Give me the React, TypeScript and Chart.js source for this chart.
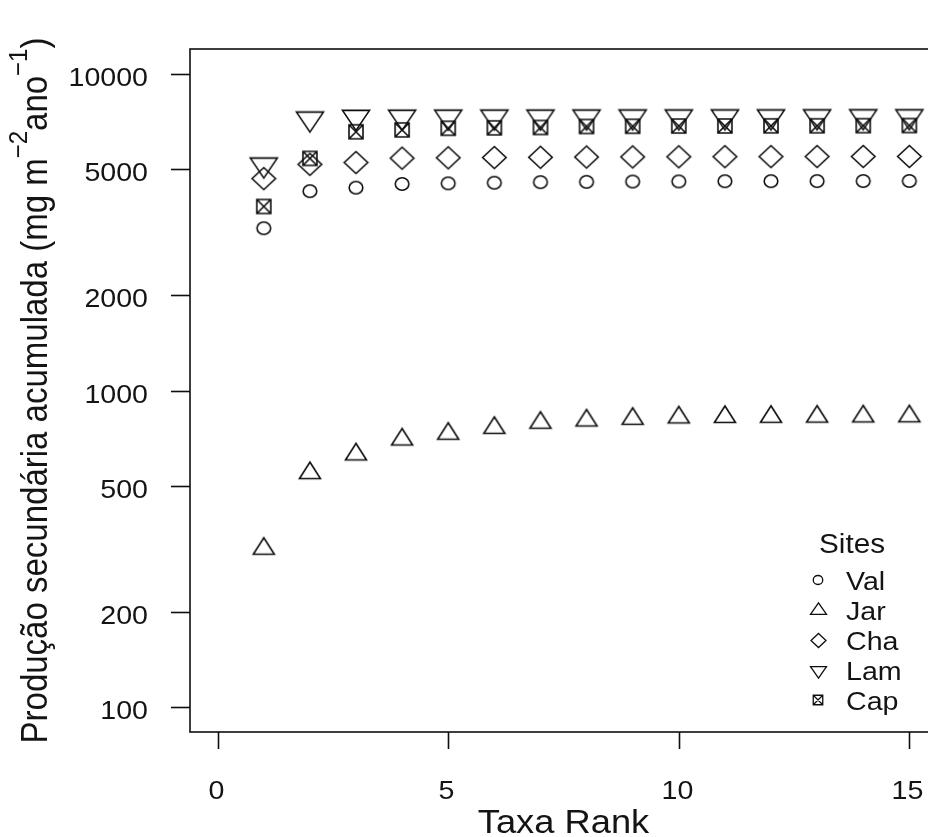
import React, { useEffect, useRef } from "react";
import { Chart, registerables } from "chart.js";

Chart.register(...registerables);

// ---------- data ----------
const ranks = [1, 2, 3, 4, 5, 6, 7, 8, 9, 10, 11, 12, 13, 14, 15];
const valValues = [3260, 4270, 4380, 4500, 4520, 4540, 4560, 4570, 4580, 4585, 4590, 4592, 4594, 4596, 4598];
const jarValues = [316, 548, 628, 700, 730, 762, 791, 804, 814, 822, 825, 826, 827, 828, 829];
const chaValues = [4680, 5190, 5260, 5430, 5445, 5455, 5465, 5475, 5480, 5485, 5490, 5492, 5494, 5496, 5498];
const lamValues = [5180, 7240, 7330, 7335, 7340, 7342, 7344, 7346, 7348, 7350, 7352, 7354, 7356, 7358, 7360];
const capValues = [3820, 5420, 6580, 6670, 6750, 6770, 6790, 6840, 6850, 6860, 6865, 6870, 6875, 6880, 6885];

const siteNames = ["Val", "Jar", "Cha", "Lam", "Cap"];
const legendTitle = "Sites";
const xTicks = [0, 5, 10, 15];
const yTicks = [100, 200, 500, 1000, 2000, 5000, 10000];
const xTitle = "Taxa Rank";
const yTitleParts = ["Produção secundária acumulada (mg m", "\u22122", "ano", "\u22121", ")"];

// ---------- styling ----------
const INK = "#0e0e0e";
const TEXT = "#141414";
const FONT = '"Liberation Sans", Arial, sans-serif';
const SX = 1.1; // horizontal stretch of the reference image

type Shape = "circle" | "tri" | "diamond" | "tridown" | "boxx";

function makeMarker(shape: Shape, w: number, h: number, lw: number): HTMLCanvasElement {
  const size = Math.ceil(Math.max(w, h) * 1.4 + 6);
  const c = document.createElement("canvas");
  c.width = size;
  c.height = size;
  const g = c.getContext("2d")!;
  g.strokeStyle = INK;
  g.lineWidth = lw;
  g.lineJoin = "miter";
  const cx = size / 2;
  const cy = size / 2;
  g.beginPath();
  switch (shape) {
    case "circle":
      g.ellipse(cx, cy, w / 2, h / 2, 0, 0, Math.PI * 2);
      break;
    case "tri":
      g.moveTo(cx, cy - (2 * h) / 3);
      g.lineTo(cx + w / 2, cy + h / 3);
      g.lineTo(cx - w / 2, cy + h / 3);
      g.closePath();
      break;
    case "tridown":
      g.moveTo(cx, cy + (2 * h) / 3);
      g.lineTo(cx + w / 2, cy - h / 3);
      g.lineTo(cx - w / 2, cy - h / 3);
      g.closePath();
      break;
    case "diamond":
      g.moveTo(cx, cy - h / 2);
      g.lineTo(cx + w / 2, cy);
      g.lineTo(cx, cy + h / 2);
      g.lineTo(cx - w / 2, cy);
      g.closePath();
      break;
    case "boxx":
      g.rect(cx - w / 2, cy - h / 2, w, h);
      g.moveTo(cx - w / 2, cy - h / 2);
      g.lineTo(cx + w / 2, cy + h / 2);
      g.moveTo(cx + w / 2, cy - h / 2);
      g.lineTo(cx - w / 2, cy + h / 2);
      break;
  }
  g.stroke();
  return c;
}

function stretchedText(
  ctx: CanvasRenderingContext2D,
  text: string,
  x: number,
  y: number,
  align: CanvasTextAlign,
  size: number
) {
  ctx.save();
  ctx.translate(x, y);
  ctx.scale(SX, 1);
  ctx.font = `${size}px ${FONT}`;
  ctx.textAlign = align;
  ctx.textBaseline = "alphabetic";
  ctx.fillStyle = TEXT;
  ctx.fillText(text, 0, 0);
  ctx.restore();
}

export default function App() {
  const ref = useRef<HTMLCanvasElement | null>(null);

  useEffect(() => {
    const canvas = ref.current;
    if (!canvas) return;

    const plotMarkers = [
      makeMarker("circle", 13.6, 12.4, 1.6),
      makeMarker("tri", 21, 16.5, 1.6),
      makeMarker("diamond", 23.5, 22, 1.6),
      makeMarker("tridown", 27, 20, 1.6),
      makeMarker("boxx", 14, 14, 1.6),
    ];
    const legendMarkers = [
      makeMarker("circle", 9.5, 9, 1.3),
      makeMarker("tri", 16, 11.5, 1.3),
      makeMarker("diamond", 15, 14, 1.3),
      makeMarker("tridown", 16, 11.5, 1.3),
      makeMarker("boxx", 9.5, 9.5, 1.3),
    ];

    const series = [valValues, jarValues, chaValues, lamValues, capValues];

    const datasets = series.map((vals, i) => ({
      type: "scatter" as const,
      label: siteNames[i],
      data: ranks.map((r, j) => ({ x: r, y: vals[j] })),
      pointStyle: plotMarkers[i],
      pointRadius: 10,
      pointHoverRadius: 10,
      showLine: false,
      borderColor: INK,
      backgroundColor: "transparent",
    }));

    const decor = {
      id: "rdecor",
      afterDraw(chart: any) {
        const ctx: CanvasRenderingContext2D = chart.ctx;
        const a = chart.chartArea;
        const xs = chart.scales.x;
        const ys = chart.scales.y;
        ctx.save();
        // box
        ctx.strokeStyle = INK;
        ctx.lineWidth = 1.6;
        ctx.strokeRect(a.left, a.top, a.right - a.left, a.bottom - a.top);

        // x ticks
        const tl = 17;
        for (const t of xTicks) {
          const px = Math.round(xs.getPixelForValue(t)) + 0.5;
          ctx.beginPath();
          ctx.moveTo(px, a.bottom);
          ctx.lineTo(px, a.bottom + tl);
          ctx.stroke();
          stretchedText(ctx, String(t), px - 2, a.bottom + 67, "center", 26);
        }
        // y ticks
        for (const t of yTicks) {
          const py = Math.round(ys.getPixelForValue(t)) + 0.5;
          ctx.beginPath();
          ctx.moveTo(a.left - tl - 2, py);
          ctx.lineTo(a.left, py);
          ctx.stroke();
          stretchedText(ctx, String(t), a.left - 42, py + 11, "right", 26);
        }

        // x title
        stretchedText(ctx, xTitle, (a.left + a.right) / 2, 833, "center", 33);

        // y title (rotated, with superscripts)
        const fs = 33;
        const supFs = 24;
        const raise = 18;
        ctx.font = `${fs}px ${FONT}`;
        const w0 = ctx.measureText(yTitleParts[0]).width;
        const w2 = ctx.measureText(yTitleParts[2]).width;
        const w4 = ctx.measureText(yTitleParts[4]).width;
        ctx.font = `${supFs}px ${FONT}`;
        const w1 = ctx.measureText(yTitleParts[1]).width;
        const w3 = ctx.measureText(yTitleParts[3]).width;
        const total = w0 + w1 + w2 + w3 + w4;
        const cy = (a.top + a.bottom) / 2;
        ctx.save();
        ctx.translate(47, cy);
        ctx.scale(SX, 1);
        ctx.rotate(-Math.PI / 2);
        ctx.fillStyle = TEXT;
        ctx.textAlign = "left";
        ctx.textBaseline = "alphabetic";
        let x = -total / 2;
        ctx.font = `${fs}px ${FONT}`;
        ctx.fillText(yTitleParts[0], x, 0);
        x += w0;
        ctx.font = `${supFs}px ${FONT}`;
        ctx.fillText(yTitleParts[1], x, -raise);
        x += w1;
        ctx.font = `${fs}px ${FONT}`;
        ctx.fillText(yTitleParts[2], x, 0);
        x += w2;
        ctx.font = `${supFs}px ${FONT}`;
        ctx.fillText(yTitleParts[3], x, -raise);
        x += w3;
        ctx.font = `${fs}px ${FONT}`;
        ctx.fillText(yTitleParts[4], x, 0);
        ctx.restore();

        // legend
        stretchedText(ctx, legendTitle, 852, 553, "center", 27);
        siteNames.forEach((name, i) => {
          const yc = 580 + i * 30;
          const m = legendMarkers[i];
          ctx.drawImage(m, Math.round(818 - m.width / 2), Math.round(yc - m.height / 2));
          stretchedText(ctx, name, 846, yc + 9.5, "left", 26);
        });
        ctx.restore();
      },
    };

    const chart = new Chart(canvas, {
      type: "scatter",
      data: { datasets },
      options: {
        responsive: false,
        animation: false,
        events: [],
        layout: { padding: { left: 190, top: 49, right: 23, bottom: 105 } },
        scales: {
          x: { type: "linear", min: -0.6, max: 15.6, display: false },
          y: { type: "logarithmic", min: Math.pow(10, 1.92), max: Math.pow(10, 4.08), display: false },
        },
        plugins: {
          legend: { display: false },
          tooltip: { enabled: false },
        },
      },
      plugins: [decor],
    } as any);

    return () => chart.destroy();
  }, []);

  return (
    <div
      style={{
        position: "fixed",
        left: 0,
        top: 0,
        width: 928,
        height: 837,
        overflow: "hidden",
        background: "#ffffff",
      }}
    >
      <canvas ref={ref} width={960} height={837} style={{ width: 960, height: 837, display: "block" }} />
    </div>
  );
}
